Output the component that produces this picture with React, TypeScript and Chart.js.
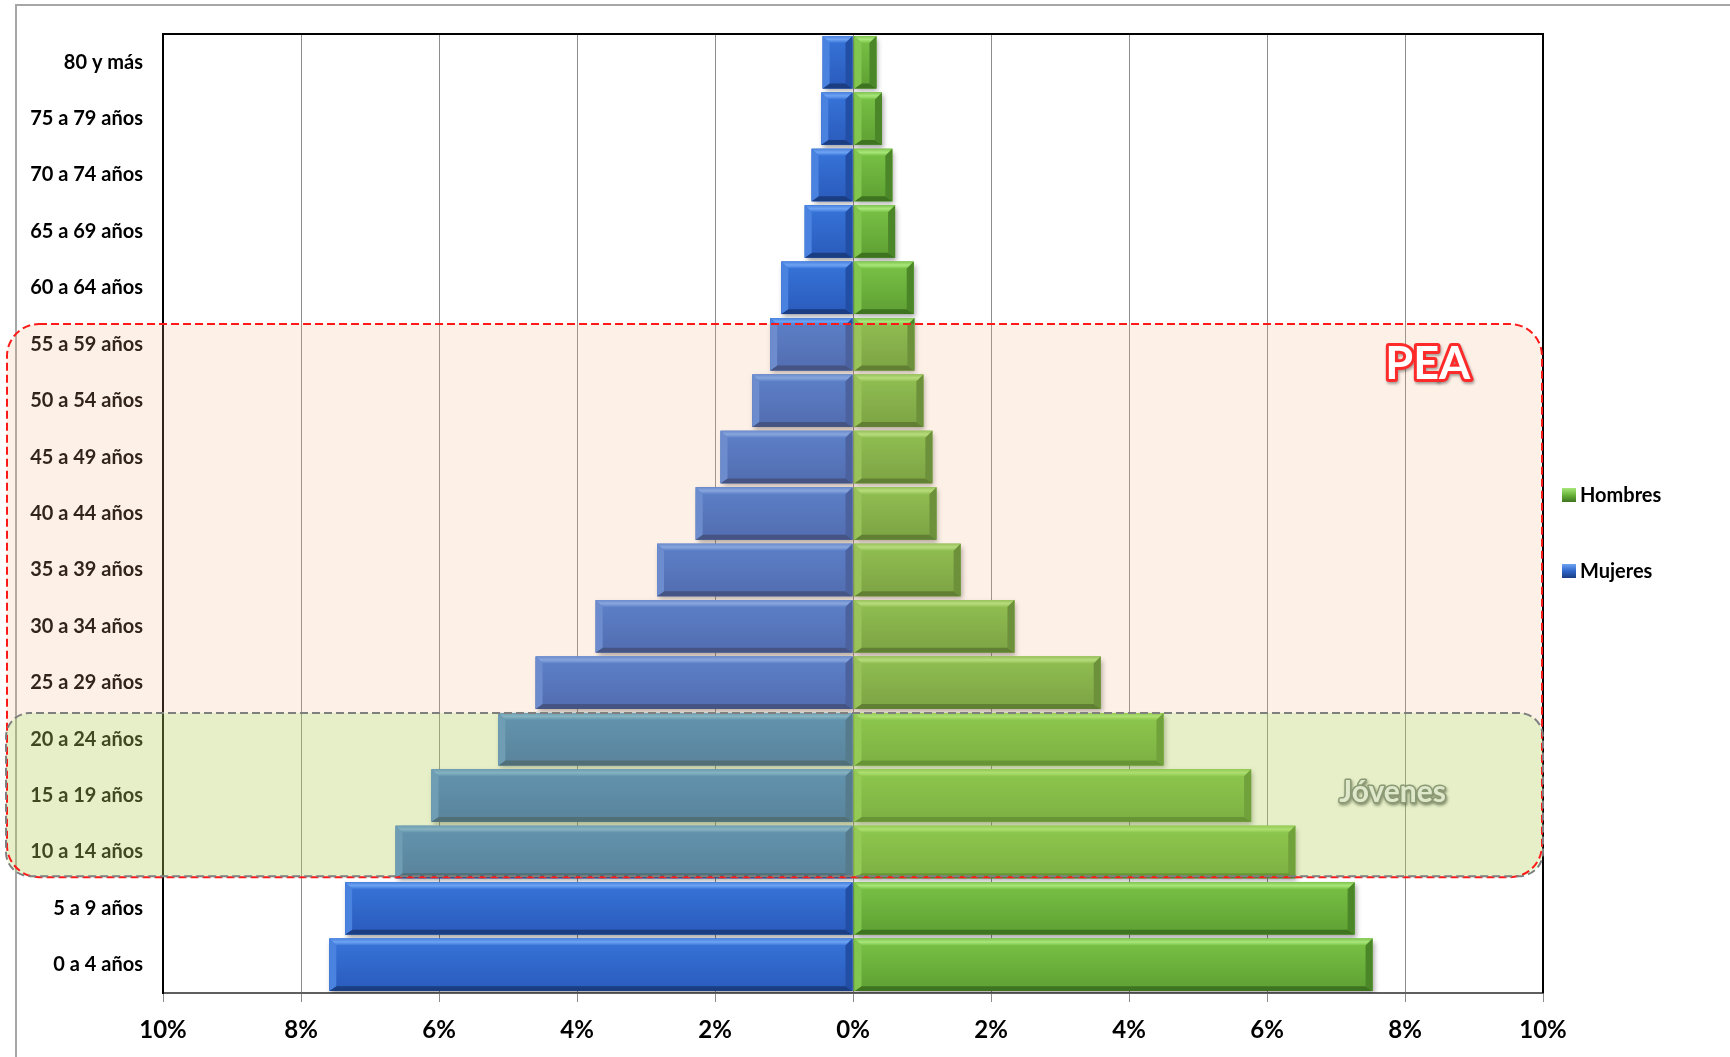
import React, { useEffect, useRef } from "react";
import { Chart, registerables } from "chart.js";

Chart.register(...registerables);

const ageGroups = [
  "80 y más",
  "75 a 79 años",
  "70 a 74 años",
  "65 a 69 años",
  "60 a 64 años",
  "55 a 59 años",
  "50 a 54 años",
  "45 a 49 años",
  "40 a 44 años",
  "35 a 39 años",
  "30 a 34 años",
  "25 a 29 años",
  "20 a 24 años",
  "15 a 19 años",
  "10 a 14 años",
  "5 a 9 años",
  "0 a 4 años",
];

const hombres = [0.34, 0.42, 0.57, 0.61, 0.88, 0.89, 1.02, 1.15, 1.21, 1.56, 2.34, 3.59, 4.5, 5.77, 6.41, 7.27, 7.53];
const mujeres = [0.44, 0.46, 0.6, 0.7, 1.04, 1.2, 1.46, 1.92, 2.28, 2.84, 3.73, 4.6, 5.14, 6.11, 6.63, 7.36, 7.59];

const xTickValues = [-10, -8, -6, -4, -2, 0, 2, 4, 6, 8, 10];
const seriesNames = ["Hombres", "Mujeres"];
const peaLabel = "PEA";
const jovenesLabel = "Jóvenes";

const FONT = "Lato, 'Open Sans', 'DejaVu Sans', sans-serif";

type Pal = {
  base: string; faceTop: string; faceBot: string; top: string; bot: string; side1: string; side2: string;
};

const PALETTES: Pal[] = [
  { base: "#6AB43A", faceTop: "#79C346", faceBot: "#5E9F33", top: "#A8E67A", bot: "#3E7420", side1: "#82C650", side2: "#4B8729" },
  { base: "#2F66C9", faceTop: "#3774D9", faceBot: "#2A5BBB", top: "#6EA3F3", bot: "#1B3D82", side1: "#4A82DF", side2: "#224EA6" },
];

function drawBevelBar(ctx: CanvasRenderingContext2D, l: number, r: number, t: number, b: number, p: Pal) {
  const w = r - l;
  const h = b - t;
  if (w <= 0 || h <= 0) return;
  const s = Math.min(7, w / 2, h / 2);
  const g = ctx.createLinearGradient(0, t, 0, b);
  g.addColorStop(0, p.faceTop);
  g.addColorStop(1, p.faceBot);
  ctx.fillStyle = g;
  ctx.fillRect(l, t, w, h);
  const poly = (pts: number[][], c: string | CanvasGradient) => {
    ctx.beginPath();
    ctx.moveTo(pts[0][0], pts[0][1]);
    for (let i = 1; i < pts.length; i++) ctx.lineTo(pts[i][0], pts[i][1]);
    ctx.closePath();
    ctx.fillStyle = c;
    ctx.fill();
  };
  const tg = ctx.createLinearGradient(0, t, 0, t + s);
  tg.addColorStop(0, p.side1);
  tg.addColorStop(0.5, p.top);
  tg.addColorStop(1, p.faceTop);
  poly([[l, t], [r, t], [r - s, t + s], [l + s, t + s]], tg);
  poly([[l, b], [r, b], [r - s, b - s * 0.7], [l + s, b - s * 0.7]], p.bot);
  poly([[l, t], [l + s, t + s], [l + s, b - s * 0.7], [l, b]], p.side1);
  poly([[r, t], [r - s, t + s], [r - s, b - s * 0.7], [r, b]], p.side2);
}

function roundRectPath(ctx: CanvasRenderingContext2D, x: number, y: number, w: number, h: number, r: number) {
  ctx.beginPath();
  ctx.moveTo(x + r, y);
  ctx.lineTo(x + w - r, y);
  ctx.arcTo(x + w, y, x + w, y + r, r);
  ctx.lineTo(x + w, y + h - r);
  ctx.arcTo(x + w, y + h, x + w - r, y + h, r);
  ctx.lineTo(x + r, y + h);
  ctx.arcTo(x, y + h, x, y + h - r, r);
  ctx.lineTo(x, y + r);
  ctx.arcTo(x, y, x + r, y, r);
  ctx.closePath();
}

const decorPlugin = {
  id: "decor",
  beforeDraw(chart: any) {
    const ctx: CanvasRenderingContext2D = chart.ctx;
    ctx.save();
    ctx.fillStyle = "#ffffff";
    ctx.fillRect(0, 0, chart.width, chart.height);
    ctx.strokeStyle = "#a6a6a6";
    ctx.lineWidth = 2;
    ctx.beginPath();
    ctx.moveTo(16, chart.height);
    ctx.lineTo(16, 5);
    ctx.lineTo(chart.width, 5);
    ctx.stroke();
    ctx.restore();
  },
  beforeDatasetsDraw(chart: any) {
    const ctx: CanvasRenderingContext2D = chart.ctx;
    ctx.save();
    ctx.shadowColor = "rgba(0,0,0,0.35)";
    ctx.shadowBlur = 5;
    ctx.shadowOffsetX = 2;
    ctx.shadowOffsetY = 3;
  },
  afterDatasetsDraw(chart: any) {
    const ctx: CanvasRenderingContext2D = chart.ctx;
    ctx.restore();
    ctx.save();
    chart.data.datasets.forEach((_ds: any, di: number) => {
      const meta = chart.getDatasetMeta(di);
      const pal = PALETTES[di];
      meta.data.forEach((el: any) => {
        const p = el.getProps(["x", "y", "base", "height"], true);
        const l = Math.min(p.x, p.base);
        const r = Math.max(p.x, p.base);
        const t = p.y - p.height / 2;
        const b = p.y + p.height / 2;
        drawBevelBar(ctx, l + (di === 0 ? 1 : 0), r, t, b, pal);
      });
    });
    ctx.restore();
  },
  afterDraw(chart: any) {
    const ctx: CanvasRenderingContext2D = chart.ctx;
    const ca = chart.chartArea;
    const ys = chart.scales.y;
    const xs = chart.scales.x;
    const step = ys.getPixelForValue(1) - ys.getPixelForValue(0);
    const edge = (i: number) => ys.getPixelForValue(i) - step / 2;

    ctx.save();
    // plot frame top & right
    ctx.strokeStyle = "#000";
    ctx.lineWidth = 2;
    ctx.beginPath();
    ctx.moveTo(ca.left - 1, ca.top);
    ctx.lineTo(ca.right, ca.top);
    ctx.lineTo(ca.right, ca.bottom);
    ctx.stroke();

    const peaTop = edge(5) + 8;
    const peaBot = edge(15) - 3;
    const peaL = ca.left - 156;
    const peaR = ca.right - 1;
    const jovTop = edge(12) + 2;
    const jovBot = edge(15) - 4;
    const jovL = ca.left - 157;
    const jovR = ca.right;

    // fills
    roundRectPath(ctx, peaL, peaTop, peaR - peaL, peaBot - peaTop, 32);
    ctx.fillStyle = "rgba(245,182,134,0.2)";
    ctx.fill();
    roundRectPath(ctx, jovL, jovTop, jovR - jovL, jovBot - jovTop, 24);
    ctx.fillStyle = "rgba(125,240,60,0.18)";
    ctx.fill();

    // borders
    ctx.setLineDash([8, 4]);
    ctx.lineWidth = 2;
    roundRectPath(ctx, peaL, peaTop, peaR - peaL, peaBot - peaTop, 32);
    ctx.strokeStyle = "#ff1a1a";
    ctx.stroke();
    ctx.lineDashOffset = 6;
    roundRectPath(ctx, jovL, jovTop, jovR - jovL, jovBot - jovTop, 24);
    ctx.strokeStyle = "#7f7f7f";
    ctx.stroke();
    ctx.setLineDash([]);

    // PEA text
    ctx.font = `bold 45px ${FONT}`;
    ctx.textAlign = "center";
    ctx.textBaseline = "alphabetic";
    ctx.lineJoin = "round";
    const px = xs.getPixelForValue(8.33);
    const py = peaTop + 55;
    ctx.shadowColor = "rgba(0,0,0,0.35)";
    ctx.shadowBlur = 3;
    ctx.shadowOffsetX = 1;
    ctx.shadowOffsetY = 2;
    ctx.strokeStyle = "#ff2a2a";
    ctx.lineWidth = 6;
    ctx.strokeText(peaLabel, px, py);
    ctx.shadowColor = "transparent";
    ctx.fillStyle = "#ffffff";
    ctx.fillText(peaLabel, px, py);

    // Jóvenes text
    ctx.font = `bold 30px ${FONT}`;
    const jx = xs.getPixelForValue(7.82);
    const jy = jovTop + 89;
    ctx.shadowColor = "rgba(50,60,30,0.55)";
    ctx.shadowBlur = 3;
    ctx.shadowOffsetX = 1;
    ctx.shadowOffsetY = 2;
    ctx.strokeStyle = "#8a9a74";
    ctx.lineWidth = 3;
    ctx.strokeText(jovenesLabel, jx, jy);
    ctx.shadowColor = "transparent";
    ctx.fillStyle = "#dfe8cb";
    ctx.fillText(jovenesLabel, jx, jy);

    // legend
    const lx = ca.right + 19;
    const lys = [ca.top + 461, ca.top + 537];
    seriesNames.forEach((name, i) => {
      const y = lys[i];
      const pal = PALETTES[i];
      const g = ctx.createLinearGradient(0, y - 7, 0, y + 7);
      g.addColorStop(0, pal.top);
      g.addColorStop(0.5, pal.base);
      g.addColorStop(1, pal.bot);
      ctx.fillStyle = g;
      ctx.fillRect(lx, y - 7, 14, 14);
      ctx.fillStyle = "#000";
      ctx.font = `bold 20px ${FONT}`;
      ctx.textAlign = "left";
      ctx.textBaseline = "middle";
      ctx.fillText(name, lx + 18, y + 1);
    });
    ctx.restore();
  },
};

export default function App() {
  const canvasRef = useRef<HTMLCanvasElement | null>(null);

  useEffect(() => {
    const canvas = canvasRef.current;
    if (!canvas) return;
    const chart = new Chart(canvas, {
      type: "bar",
      data: {
        labels: ageGroups,
        datasets: [
          {
            label: seriesNames[0],
            data: hombres,
            backgroundColor: PALETTES[0].base,
            borderWidth: 0,
          },
          {
            label: seriesNames[1],
            data: mujeres.map((v) => -v),
            backgroundColor: PALETTES[1].base,
            borderWidth: 0,
          },
        ],
      },
      options: {
        responsive: false,
        animation: false,
        indexAxis: "y",
        layout: { padding: { top: 34, right: 187, bottom: 0, left: 0 } },
        datasets: { bar: { barPercentage: 0.93, categoryPercentage: 1 } },
        plugins: {
          legend: { display: false },
          tooltip: { enabled: false },
        },
        scales: {
          x: {
            stacked: true,
            min: -10,
            max: 10,
            afterBuildTicks: (s: any) => {
              s.ticks = xTickValues.map((v) => ({ value: v }));
            },
            afterFit: (s: any) => {
              s.height = 64;
            },
            grid: { color: "#8c8c8c", lineWidth: 1, tickLength: 9, drawTicks: true },
            border: { color: "#5f5f5f", width: 2 },
            ticks: {
              callback: (v: any) => Math.abs(Number(v)) + "%",
              font: { family: FONT, size: 24, weight: "bold" },
              color: "#000",
              padding: 14,
              maxRotation: 0,
            },
          },
          y: {
            stacked: true,
            afterFit: (s: any) => {
              s.width = 163;
            },
            grid: { display: false },
            border: { color: "#000", width: 2 },
            ticks: {
              font: { family: FONT, size: 20, weight: "bold" },
              color: "#000",
              padding: 12,
              autoSkip: false,
            },
          },
        },
      } as any,
      plugins: [decorPlugin],
    });
    return () => chart.destroy();
  }, []);

  return (
    <div style={{ position: "absolute", left: 0, top: 0, width: 1730, height: 1057, background: "#fff" }}>
      <canvas ref={canvasRef} width={1730} height={1057} style={{ width: 1730, height: 1057, display: "block" }} />
    </div>
  );
}
